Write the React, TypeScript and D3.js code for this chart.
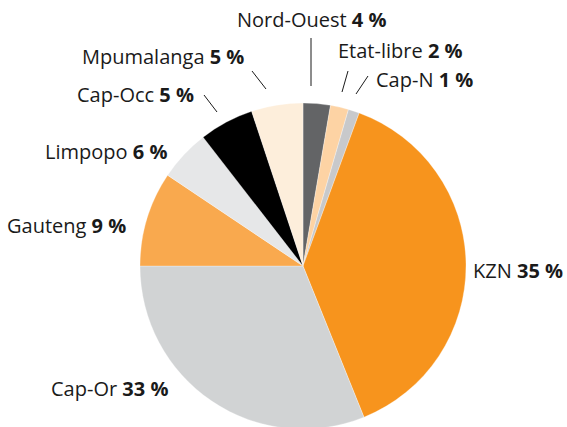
import React from "react";
import * as d3 from "d3";

const regions = ["Nord-Ouest", "Etat-libre", "Cap-N", "KZN", "Cap-Or", "Gauteng", "Limpopo", "Cap-Occ", "Mpumalanga"];
// slice sizes as drawn in the picture
const shares = [2.7, 1.8, 1.1, 38.3, 31.1, 9.4, 5.1, 5.4, 5.1];
// percentages printed in the labels
const labelPercents = [4, 2, 1, 35, 33, 9, 6, 5, 5];
const colors = ["#636466", "#fdd3a4", "#c8c9cb", "#f7941d", "#d1d3d4", "#f9a94e", "#e6e7e8", "#000000", "#fdeedb"];

// label layout: text start x, baseline y, optional leader line
const labelLayout: { x: number; y: number; line?: [number, number, number, number] }[] = [
  { x: 237, y: 27, line: [311, 38, 311, 86] },
  { x: 338, y: 58, line: [348, 71, 342, 92] },
  { x: 376, y: 87, line: [368, 76, 356, 94] },
  { x: 473, y: 278 },
  { x: 51, y: 396 },
  { x: 7, y: 233 },
  { x: 45, y: 159 },
  { x: 77, y: 102, line: [204, 95, 217, 112] },
  { x: 82, y: 64, line: [252, 71, 266, 89] },
];

const W = 567, H = 427;
const cx = 303, cy = 266, R = 163;

export default function App() {
  const pie = d3.pie<number>().sort(null).value((d) => d);
  const arcs = pie(shares);
  const arc = d3.arc<d3.PieArcDatum<number>>().innerRadius(0).outerRadius(R);
  return (
    <svg width={W} height={H} style={{ position: "absolute", left: 0, top: 0 }}>
      <rect width={W} height={H} fill="#fff" />
      <g transform={`translate(${cx},${cy})`}>
        {arcs.map((a, i) => (
          <path key={i} d={arc(a) || ""} fill={colors[i]} stroke="#fff" strokeWidth={0.3} />
        ))}
      </g>
      {labelLayout.map((l, i) => (
        <g key={i}>
          {l.line && (
            <line x1={l.line[0]} y1={l.line[1]} x2={l.line[2]} y2={l.line[3]} stroke="#1a1a1a" strokeWidth={1} />
          )}
          <text x={l.x} y={l.y} fontFamily="'Open Sans', sans-serif" fontSize={20} fill="#1a1a1a">
            {regions[i]} <tspan fontWeight="bold">{labelPercents[i]} %</tspan>
          </text>
        </g>
      ))}
    </svg>
  );
}
